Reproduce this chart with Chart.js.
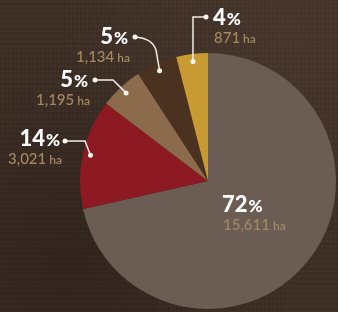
<!DOCTYPE html>
<html>
<head>
<meta charset="utf-8">
<script src="https://cdn.jsdelivr.net/npm/chart.js@4"></script>
<style>
  html, body { margin: 0; padding: 0; }
  body {
    width: 338px; height: 312px; overflow: hidden;
    background-color: #3e2f26;
    background-image:
      radial-gradient(ellipse at 20% 85%, rgba(20,12,8,0.3), rgba(0,0,0,0) 60%),
      radial-gradient(ellipse at 85% 10%, rgba(95,75,60,0.25), rgba(0,0,0,0) 55%),
      repeating-linear-gradient(90deg, rgba(0,0,0,0.06) 0px, rgba(0,0,0,0.06) 1px, rgba(0,0,0,0) 2px, rgba(0,0,0,0) 4px),
      repeating-linear-gradient(0deg, rgba(255,255,255,0.025) 0px, rgba(255,255,255,0.025) 1px, rgba(0,0,0,0) 2px, rgba(0,0,0,0) 5px);
  }
  #wrap { position: relative; width: 338px; height: 312px; }
  canvas { display: block; }
</style>
</head>
<body>
<div id="wrap"><canvas id="pie" width="338" height="312"></canvas></div>
<script>
// データ
var categories = ['Other', 'Red', 'Tan', 'Dark brown', 'Gold'];
var hectares = [15611, 3021, 1195, 1134, 871];
var percents = [72, 14, 5, 5, 4];
var colors = ['#6b5d54', '#8d1a23', '#8b6b4c', '#4b311f', '#c89a32'];

// ラベルの配置 (elbow = 折れ点, end = 文字側の点, tx/ty = 文字位置)
var labelLayout = [
  { align: 'left',  tx: 222, ty: 212, leader: false },
  { align: 'right', tx: 60,  ty: 146, leader: true, elbow: [85, 141],  end: [65, 141] },
  { align: 'right', tx: 88,  ty: 87,  leader: true, elbow: [113, 80],  end: [95, 80] },
  { align: 'right', tx: 128, ty: 44,  leader: true, elbow: [156, 50],  end: [135, 37], curve: [152, 38] },
  { align: 'left',  tx: 213, ty: 25,  leader: true, elbow: [193, 17],  end: [206, 17] }
];

var FONT = 'Lato, "Open Sans", sans-serif';

function drawPercent(ctx, text, x, y, align) {
  ctx.font = '900 22px ' + FONT;
  var wNum = ctx.measureText(text).width;
  ctx.font = '900 17px ' + FONT;
  var wPct = ctx.measureText('%').width;
  var left = align === 'right' ? x - wNum - wPct - 1 : x;
  ctx.fillStyle = '#ffffff';
  ctx.textAlign = 'left';
  ctx.font = '900 22px ' + FONT;
  ctx.fillText(text, left, y);
  ctx.font = '900 17px ' + FONT;
  ctx.fillText('%', left + wNum + 1, y);
}

function drawArea(ctx, value, x, y, align) {
  var num = value.toLocaleString('en-US');
  ctx.font = '500 15px ' + FONT;
  var wNum = ctx.measureText(num).width;
  ctx.font = '600 12px ' + FONT;
  var wHa = ctx.measureText('ha').width;
  var left = align === 'right' ? x - wNum - wHa - 3 : x;
  ctx.fillStyle = '#a4885f';
  ctx.textAlign = 'left';
  ctx.font = '500 15px ' + FONT;
  ctx.fillText(num, left, y);
  ctx.font = '600 12px ' + FONT;
  ctx.fillText('ha', left + wNum + 3, y);
}

var labelPlugin = {
  id: 'labels',
  afterDraw: function(chart) {
    var ctx = chart.ctx;
    var meta = chart.getDatasetMeta(0);
    ctx.save();
    ctx.textBaseline = 'alphabetic';
    meta.data.forEach(function(arc, i) {
      var L = labelLayout[i];
      var p = arc.getProps(['x', 'y', 'startAngle', 'endAngle', 'outerRadius'], true);
      var mid = (p.startAngle + p.endAngle) / 2;
      var r = p.outerRadius * 0.94;
      var dx = p.x + Math.cos(mid) * r;
      var dy = p.y + Math.sin(mid) * r;
      if (L.leader) {
        ctx.strokeStyle = '#f2ece4';
        ctx.lineWidth = 1.5;
        ctx.beginPath();
        ctx.moveTo(dx, dy);
        ctx.lineTo(L.elbow[0], L.elbow[1]);
        if (L.curve) {
          ctx.quadraticCurveTo(L.curve[0], L.curve[1], L.end[0], L.end[1]);
        } else {
          ctx.lineTo(L.end[0], L.end[1]);
        }
        ctx.stroke();
        ctx.fillStyle = '#fbf6ea';
        ctx.beginPath(); ctx.arc(dx, dy, 2.5, 0, Math.PI * 2); ctx.fill();
        ctx.beginPath(); ctx.arc(L.end[0], L.end[1], 2.5, 0, Math.PI * 2); ctx.fill();
      }
      drawPercent(ctx, String(percents[i]), L.tx, L.ty, L.align);
      drawArea(ctx, hectares[i], L.align === 'right' ? L.tx + 2 : L.tx + 1, L.ty + 18, L.align);
    });
    ctx.restore();
  }
};

var pieChart = new Chart(document.getElementById('pie'), {
  type: 'pie',
  data: {
    labels: categories,
    datasets: [{
      data: hectares,
      backgroundColor: colors,
      borderWidth: 0
    }]
  },
  options: {
    responsive: false,
    animation: false,
    layout: { padding: { left: 80, right: 2, top: 53, bottom: 3 } },
    plugins: {
      legend: { display: false },
      tooltip: { enabled: false }
    }
  },
  plugins: [labelPlugin]
});
</script>
</body>
</html>
